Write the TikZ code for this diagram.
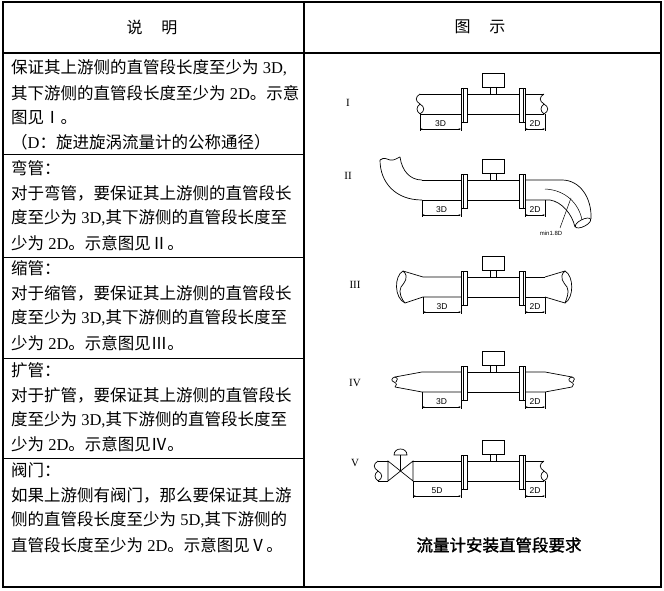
\documentclass[tikz,border=0pt]{standalone}
\usepackage{fontspec}
\setmainfont{Noto Sans CJK SC}
\newfontfamily\tmr{Liberation Serif}
\newfontfamily\cad{Liberation Sans}
\newfontfamily\capfont{Noto Sans CJK SC}[FakeBold=1.6]
\usetikzlibrary{arrows.meta}
\newcommand\lt[1]{{\tmr #1}}
\newcommand\brk[1]{%
  \draw[pipe] (#1,94) .. controls (#1-5,97) and (#1-5,101) .. (#1,104) .. controls (#1+5,107) and (#1+5,111) .. (#1,114);
  \draw[pipe] (#1,104) .. controls (#1-4,107) and (#1-4,111) .. (#1,114);}
\newcommand\meterparts[1]{%
  \draw[pipe] (482,73) rectangle (504,87);
  \draw[pipe] (490,87) -- (490,94) (496,87) -- (496,94);
  \draw[pipe] (467,94) -- (519,94) (467,114) -- (519,114);
  \draw[pipe] (461,88) rectangle (467,122) (463,88) -- (463,122);
  \draw[pipe] (519,88) rectangle (525,122) (523,88) -- (523,122);
  \draw[pipe] (525,122) -- (525,131) (545,114) -- (545,131);
  \draw[dimline] (525,129) -- (545,129);
  \node[dimlbl] (d2#1) at (535,123.5) {2D};
  \draw[pipe] (461,122) -- (461,131);}
\newcommand\leftdim[3]{%
  \draw[pipe] (#1,114) -- (#1,131);
  \draw[dimline] (#1,129) -- (461,129);
  \node[dimlbl] (d3#3) at ({(#1+461)/2},123.5) {#2};}
\begin{document}
\begin{tikzpicture}[x=1pt,y=-1pt,
  txt/.style={anchor=west,inner sep=0pt,font=\fontsize{16.5}{20}\selectfont},
  hdr/.style={inner sep=0pt,font=\fontsize{16}{20}\selectfont},
  pipe/.style={line width=0.7pt},
  thinl/.style={line width=0.5pt},
  dimline/.style={line width=0.6pt,{Stealth[length=2.5pt,width=1.6pt]}-{Stealth[length=2.5pt,width=1.6pt]}},
  dimlbl/.style={inner sep=0pt,font=\cad\fontsize{8.5}{9}\selectfont},
  roman/.style={inner sep=0pt,font=\tmr\fontsize{11}{11}\selectfont},
]
\useasboundingbox (0,0) rectangle (664,591);
\fill[white] (0,0) rectangle (664,591);
% table
\draw[line width=2pt] (2.5,2.5) rectangle (661,587);
\draw[line width=1.6pt] (2.5,53) -- (661,53);
\draw[line width=1.2pt] (304,2.5) -- (304,587);
\foreach \y in {155,257,358,458} \draw[line width=1pt] (2.5,\y) -- (304,\y);
% headers
\node[hdr] (h1) at (152,27) {说\hspace{19pt}明};
\node[hdr] (h2) at (480,27) {图\hspace{19pt}示};
% row 1
\node[txt] (a1) at (11,68) {保证其上游侧的直管段长度至少为\lt{\ 3D,}};
\node[txt] (a2) at (11,93) {其下游侧的直管段长度至少为\lt{\ 2D}。示意};
\node[txt] (a3) at (11,118) {图见Ⅰ。};
\node[txt] (a4) at (11,142) {（\lt{D}：旋进旋涡流量计的公称通径）};
% row 2
\node[txt] (b1) at (11,168) {弯管：};
\node[txt] (b2) at (11,193) {对于弯管，要保证其上游侧的直管段长};
\node[txt] (b3) at (11,218) {度至少为\lt{\ 3D,}其下游侧的直管段长度至};
\node[txt] (b4) at (11,243) {少为\lt{\ 2D}。示意图见Ⅱ。};
% row 3
\node[txt] (c1) at (11,268) {缩管：};
\node[txt] (c2) at (11,293) {对于缩管，要保证其上游侧的直管段长};
\node[txt] (c3) at (11,318) {度至少为\lt{\ 3D,}其下游侧的直管段长度至};
\node[txt] (c4) at (11,343) {少为\lt{\ 2D}。示意图见Ⅲ。};
% row 4
\node[txt] (e1) at (11,370) {扩管：};
\node[txt] (e2) at (11,395) {对于扩管，要保证其上游侧的直管段长};
\node[txt] (e3) at (11,420) {度至少为\lt{\ 3D,}其下游侧的直管段长度至};
\node[txt] (e4) at (11,444) {少为\lt{\ 2D}。示意图见Ⅳ。};
% row 5
\node[txt] (f1) at (11,470) {阀门：};
\node[txt] (f2) at (11,495) {如果上游侧有阀门，那么要保证其上游};
\node[txt] (f3) at (11,520) {侧的直管段长度至少为\lt{\ 5D,}其下游侧的};
\node[txt] (f4) at (11,545) {直管段长度至少为\lt{\ 2D}。示意图见Ⅴ。};
% ---- diagram I
\begin{scope}
\meterparts{a}
\draw[pipe] (420,94) -- (461,94) (420,114) -- (461,114);
\brk{420}
\draw[pipe] (525,94) -- (544,94) (525,114) -- (544,114);
\brk{544}
\leftdim{420}{3D}{a}
\node[roman] (rI) at (348,103) {I};
\end{scope}
% ---- diagram II
\begin{scope}[shift={(0,86)}]
\meterparts{b}
\draw[pipe] (422,94) -- (461,94) (422,114) -- (461,114);
\draw[pipe] (380,74) .. controls (380,96) and (395,114) .. (422,114);
\draw[pipe] (400,71) .. controls (402,85) and (410,94) .. (422,94);
\draw[pipe] (380,74) .. controls (384,71) and (387,73) .. (390,74) .. controls (394,75) and (397,72) .. (400,71);
\draw[pipe] (525,94) -- (562,94) .. controls (580,94) and (592,112) .. (591,133);
\draw[pipe] (525,114) -- (550,114) .. controls (562,116) and (572,128) .. (575,141);
\draw[thinl] (545,103) .. controls (566,104) and (579,118) .. (582,134);
\draw[pipe, rotate around={27:(583,137)}] (583,137) ellipse [x radius=8.5, y radius=3.5];
\draw[thinl] (560,142) -- (571,112);
\node[inner sep=0pt,font=\cad\fontsize{6}{6}\selectfont] (minl) at (551,147) {min1.8D};
\leftdim{422}{3D}{b}
\node[roman] (rII) at (348,90) {II};
\end{scope}
% ---- diagram III
\begin{scope}[shift={(0,183)}]
\meterparts{c}
\draw[pipe] (403,88) -- (423,94) -- (461,94) (405,120) -- (423,114) -- (461,114);
\draw[pipe] (403,88) .. controls (394,93) and (394,115) .. (405,120);
\draw[pipe] (403,88) .. controls (410,94) and (404,100) .. (401,104) .. controls (398,109) and (402,117) .. (405,120);
\draw[pipe] (545,94) -- (565,88) (545,114) -- (565,120);
\draw[pipe] (525,94) -- (545,94) (525,114) -- (545,114);
\draw[pipe] (565,88) .. controls (574,93) and (574,115) .. (565,120);
\draw[pipe] (565,88) .. controls (558,94) and (564,100) .. (567,104) .. controls (570,109) and (566,117) .. (565,120);
\leftdim{423}{3D}{c}
\node[roman] (rIII) at (355,102) {III};
\end{scope}
% ---- diagram IV
\begin{scope}[shift={(0,278)}]
\meterparts{d}
\draw[pipe] (395,99) -- (422,94) -- (461,94) (395,109) -- (422,114) -- (461,114);
\draw[pipe] (395,99) .. controls (391,100) and (391,103) .. (394,104) .. controls (397,105) and (397,108) .. (395,109);
\draw[pipe] (395,99) .. controls (398,100) and (398,102) .. (396,104);
\draw[pipe] (525,94) -- (545,94) -- (572,99) (525,114) -- (545,114) -- (572,109);
\draw[pipe] (572,99) .. controls (568,100) and (568,103) .. (571,104) .. controls (574,105) and (574,108) .. (572,109);
\draw[pipe] (572,99) .. controls (575,100) and (575,102) .. (573,104);
\leftdim{422}{3D}{d}
\node[roman] (rIV) at (355,105) {IV};
\end{scope}
% ---- diagram V
\begin{scope}[shift={(0,367)}]
\meterparts{e}
\draw[pipe] (378,94) -- (388,94) (378,114) -- (388,114);
\brk{378}
\draw[pipe] (388,94) -- (388,114) -- (413,94) -- (413,114) -- cycle;
\draw[pipe] (400.5,104) -- (400.5,88);
\draw[pipe] (394,88) .. controls (394,80) and (407,80) .. (407,88) -- cycle;
\draw[pipe] (413,94) -- (461,94) (413,114) -- (461,114);
\draw[pipe] (525,94) -- (544,94) (525,114) -- (544,114);
\brk{544}
\leftdim{413}{5D}{e}
\node[roman] (rV) at (355,96) {V};
\end{scope}
% caption
\node[inner sep=0pt,font=\capfont\fontsize{16.5}{20}\selectfont] (cap) at (499,545) {流量计安装直管段要求};
\end{tikzpicture}
\end{document}
